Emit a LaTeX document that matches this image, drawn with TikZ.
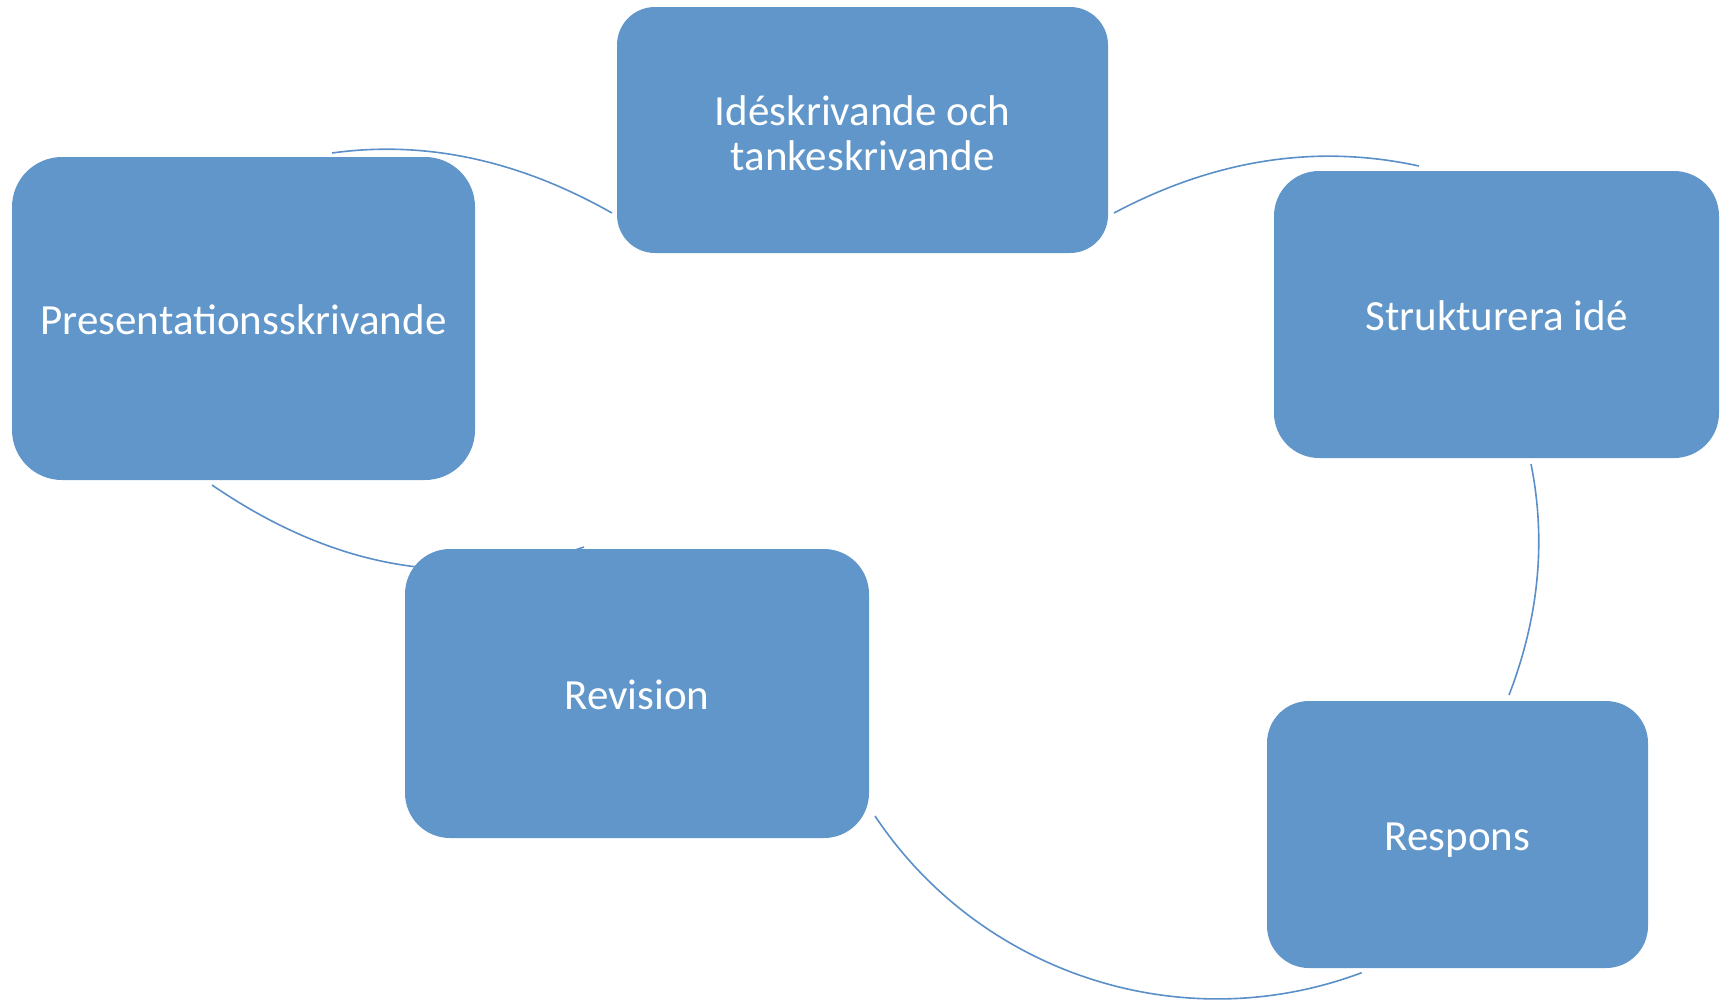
\documentclass[tikz,border=0pt]{standalone}
\usepackage{fontspec}
\setmainfont{Carlito}
\definecolor{boxblue}{HTML}{6096C9}
\definecolor{lineblue}{HTML}{5A8FC8}
\begin{document}
\begin{tikzpicture}[x=1pt,y=-1pt,
  stage/.style={rectangle, fill=boxblue, draw=none, text=white, align=center,
    inner sep=0pt, font=\fontsize{43}{44.5}\selectfont},
  oneline/.style={text height=32pt, text depth=0pt},
  arc/.style={draw=lineblue, line width=1.6pt}]
\useasboundingbox (0,0) rectangle (1729,1001);
% connectors (drawn first, boxes cover them)
\coordinate (a1s) at (1114,213); \coordinate (a1e) at (1419,166);
\coordinate (a2s) at (1531,464); \coordinate (a2e) at (1509,695);
\coordinate (a3s) at (1361.7,972.7); \coordinate (a3e) at (875,816);
\coordinate (a4s) at (584,547);  \coordinate (a4e) at (212,485);
\coordinate (a5s) at (332,153);  \coordinate (a5e) at (612,213);
\draw[arc] (a1s) .. controls (1215,159.3) and (1316.7,143.7) .. (a1e);
\draw[arc] (a2s) .. controls (1546.3,540.3) and (1539,617.3) .. (a2e);
\draw[arc] (a3s) .. controls (1183,1039.8) and (980.9,974.8) .. (a3e);
\draw[arc] (a4s) .. controls (460,590.7) and (336,570) .. (a4e);
\draw[arc] (a5s) .. controls (425.3,140.1) and (518.7,160.1) .. (a5e);
% boxes
\node[stage, minimum width=491pt, minimum height=246pt, rounded corners=38pt] (idea) at (862.5,130) {};
\node[text=white, align=center, inner sep=0pt, font=\fontsize{43}{44.5}\selectfont] (idealabel) at ([yshift=-3pt]idea.center) {Idéskrivande och\\tankeskrivande};
\node[stage, oneline, minimum width=445pt, minimum height=287pt, rounded corners=45pt] (struct) at (1496.5,314.5) {Strukturera idé};
\node[stage, oneline, minimum width=381pt, minimum height=267pt, rounded corners=42pt] (resp) at (1457.5,834.5) {Respons};
\node[stage, oneline, minimum width=464pt, minimum height=289pt, rounded corners=45pt] (rev) at (637,693.5) {Revision};
\node[stage, oneline, minimum width=463pt, minimum height=323pt, rounded corners=50pt] (pres) at (243.5,318.5) {Presentationsskrivande};
\end{tikzpicture}
\end{document}
